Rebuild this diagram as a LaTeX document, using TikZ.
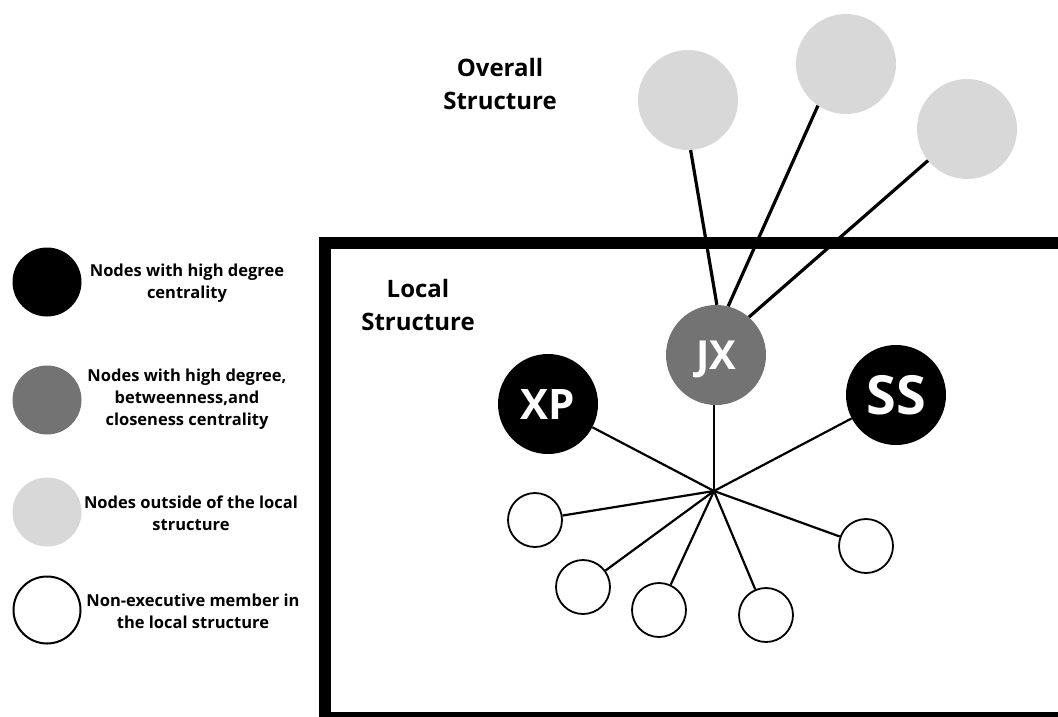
\documentclass[tikz,border=0pt]{standalone}
\usepackage{fontspec}
\setmainfont{Open Sans}
\definecolor{midgray}{HTML}{737373}
\definecolor{palegray}{HTML}{D8D8D8}
\begin{document}
\begin{tikzpicture}[x=1pt,y=-1pt,
  core/.style={circle, fill=black, minimum size=100, inner sep=0pt, text=white,
    font=\bfseries\fontsize{42}{42}\selectfont, text depth=0pt},
  bridge/.style={core, fill=midgray, font=\bfseries\fontsize{40}{40}\selectfont},
  outer/.style={circle, fill=palegray, minimum size=100, inner sep=0pt},
  member/.style={circle, draw=black, line width=1.8pt, fill=white, minimum size=54, inner sep=0pt},
  keydot/.style={circle, minimum size=69, inner sep=0pt},
  keytext/.style={font=\bfseries\fontsize{16.5}{22}\selectfont, align=center},
  heading/.style={font=\bfseries\fontsize{24}{33}\selectfont, align=center},
  uplink/.style={line width=3.2pt},
  link/.style={line width=2.2pt}]
\useasboundingbox (0,0) rectangle (1058,716);
\clip (0,0) rectangle (1058,716);

% frame of the local structure
\draw[line width=12pt] (325,243) rectangle (1080,718);

% headings
\node[heading] (overall) at (500,84) {Overall\\Structure};
\node[heading] (local) at (418,305) {Local\\Structure};

% nodes outside the local structure
\node[outer] (oa) at (688,100) {};
\node[outer] (ob) at (846,64) {};
\node[outer] (oc) at (967,129) {};

% central nodes
\node[bridge] (jx) at (716,355) {JX};
\node[core] (xp) at (548,404) {XP};
\node[core, font=\bfseries\fontsize{54}{54}\selectfont] (ss) at (896,395) {SS};

% non-executive members
\node[member] (w1) at (535,520) {};
\node[member] (w2) at (583,587) {};
\node[member] (w3) at (659,610) {};
\node[member] (w4) at (766,615) {};
\node[member] (w5) at (866,546) {};

\coordinate (hub) at (714,491);

% links to the overall structure
\draw[uplink] (oa.273) -- (jx.89);
\draw[uplink] (ob.236) -- (jx.76);
\draw[uplink] (oc.219) -- (jx.49);

% links inside the local structure
\draw[link] (xp) -- (hub);
\draw[link] (jx.south -| hub) -- (hub);
\draw[link] (ss) -- (hub);
\foreach \m in {w1,w2,w3,w4,w5} \draw[link] (hub) -- (\m);

% legend
\node[keydot, fill=black] (k1) at (47,282) {};
\node[keydot, fill=midgray] (k2) at (47,400) {};
\node[keydot, fill=palegray] (k3) at (47,512) {};
\node[keydot, draw=black, line width=2pt, minimum size=67] (k4) at (47,610) {};
\node[keytext] (t1) at (187,283) {Nodes with high degree\\centrality};
\node[keytext] (t2) at (187,399) {Nodes with high degree,\\betweenness,and\\closeness centrality};
\node[keytext] (t3) at (191,513) {Nodes outside of the local\\structure};
\node[keytext] (t4) at (193,611) {Non-executive member in\\the local structure};
\end{tikzpicture}
\end{document}
